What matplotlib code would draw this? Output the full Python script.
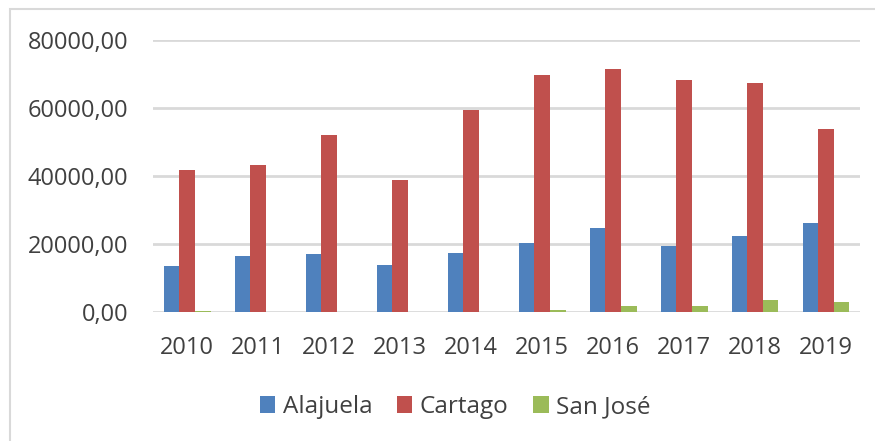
import matplotlib.pyplot as plt
import numpy as np
from matplotlib.patches import Rectangle

# datos
anios = ["2010", "2011", "2012", "2013", "2014", "2015", "2016", "2017", "2018", "2019"]
alajuela = [13400, 16400, 17200, 13900, 17400, 20300, 24800, 19400, 22500, 26200]
cartago = [41900, 43400, 52100, 38900, 59400, 69600, 71500, 68300, 67500, 53900]
san_jose = [300, 0, 0, 0, 0, 500, 1800, 1900, 3500, 2900]

plt.rcParams["font.family"] = ["Open Sans", "DejaVu Sans"]
color_texto = "#404040"

fig = plt.figure(figsize=(8.75, 4.41), dpi=100)
ax = fig.add_axes([0.175, 0.2925, 0.808, 0.6165])

x = np.arange(len(anios))
ancho = 0.22
ax.bar(x - ancho, alajuela, ancho, color="#4F81BD", label="Alajuela", zorder=3)
ax.bar(x, cartago, ancho, color="#C0504D", label="Cartago", zorder=3)
ax.bar(x + ancho, san_jose, ancho, color="#9BBB59", label="San José", zorder=3)

ax.set_ylim(0, 80000)
ax.set_xlim(-0.48, len(anios) - 0.52)
ax.set_yticks(range(0, 80001, 20000))
ax.set_yticklabels([f"{v},00" for v in range(0, 80001, 20000)])
ax.set_xticks(x)
ax.set_xticklabels(anios)
ax.tick_params(axis="both", length=0, labelsize=17, colors=color_texto)
ax.tick_params(axis="x", pad=17)
ax.tick_params(axis="y", pad=18)
ax.grid(axis="y", color="#D9D9D9", linewidth=2, zorder=0)
for s in ax.spines.values():
    s.set_visible(False)

fig.legend(loc="center", bbox_to_anchor=(0.52, 0.077), ncol=3, frameon=False,
           fontsize=17.5, labelcolor=color_texto, handlelength=0.65, handleheight=0.75,
           handletextpad=0.3, columnspacing=1.0)

fig.patches.append(Rectangle((0.011, -0.05), 1.1, 1.03, transform=fig.transFigure,
                             fill=False, edgecolor="#D9D9D9", linewidth=1.5))

fig.savefig("out.png", dpi=100)
